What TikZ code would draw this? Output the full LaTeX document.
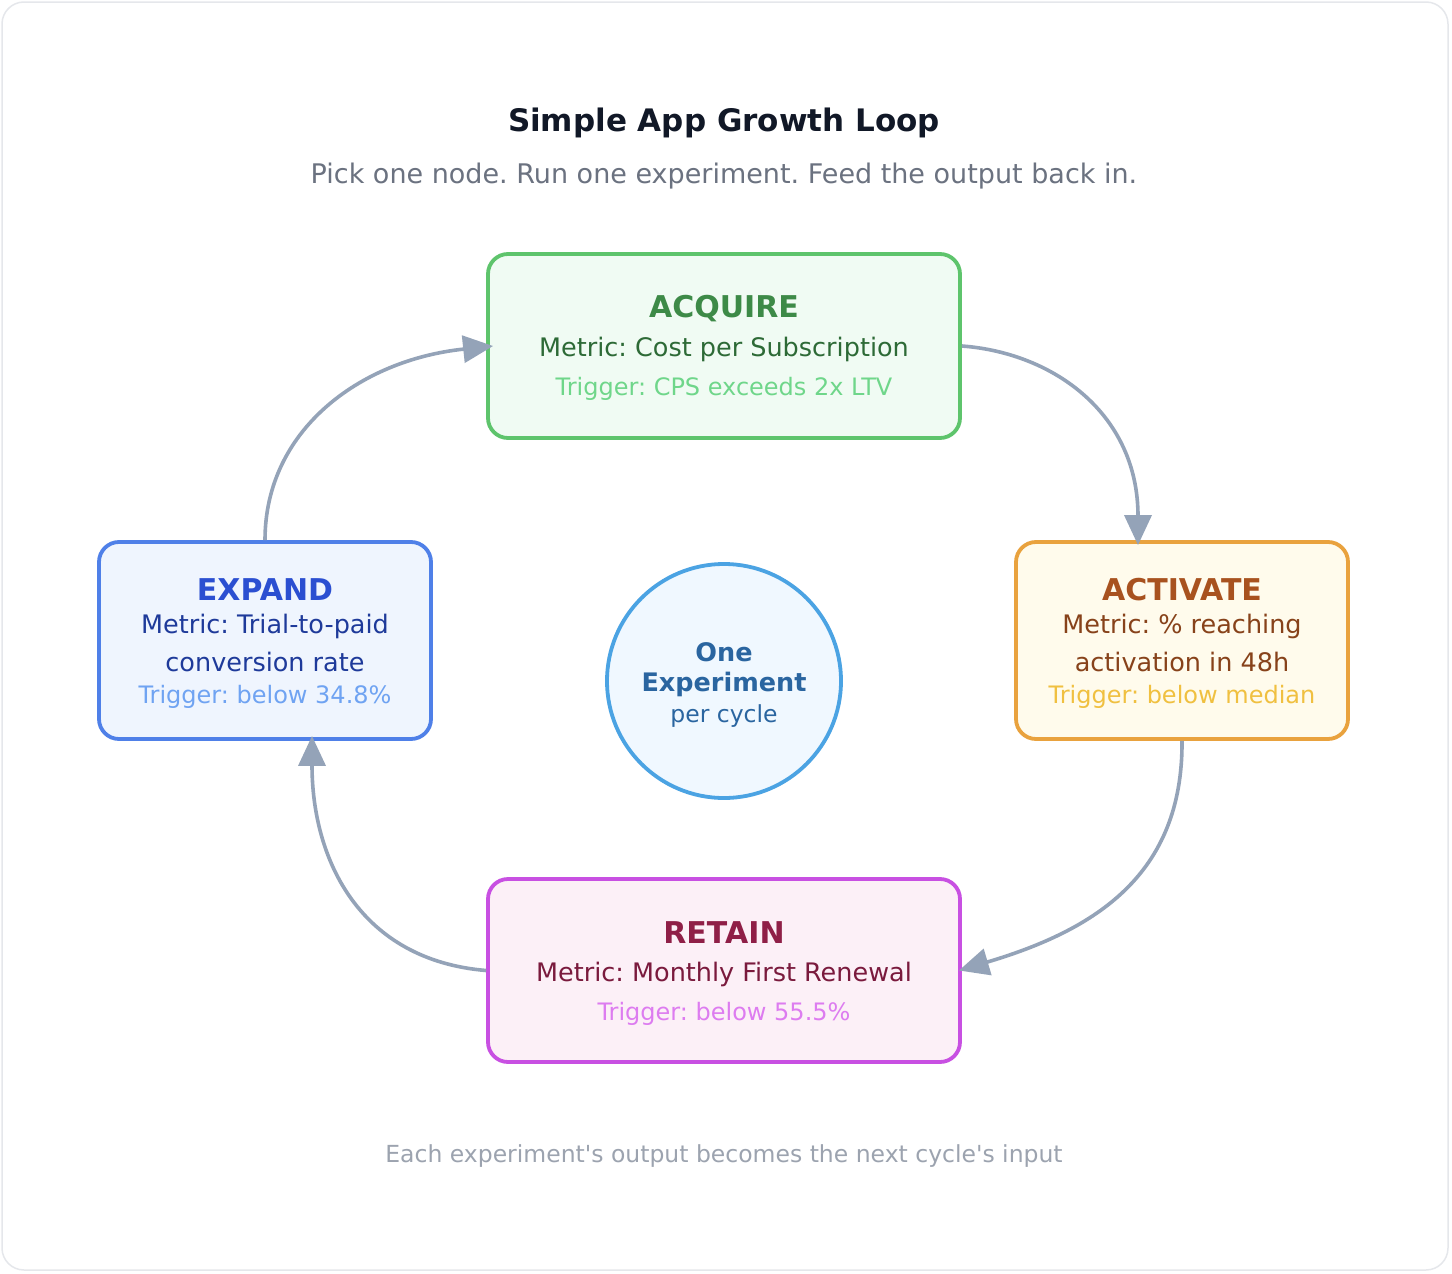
\documentclass[tikz,border=0pt]{standalone}
\usepackage{fontspec}
\setmainfont{DejaVu Sans}[Ligatures=TeXOff]
\usetikzlibrary{arrows.meta, calc, positioning}
\definecolor{cardline}{HTML}{E5E7EB}
\definecolor{titleink}{HTML}{111827}
\definecolor{subink}{HTML}{6B7280}
\definecolor{footink}{HTML}{9CA3AF}
\definecolor{loopgray}{HTML}{94A3B8}
\definecolor{acqline}{HTML}{5EC46C}
\definecolor{acqfill}{HTML}{F0FBF3}
\definecolor{acqhead}{HTML}{3D8A47}
\definecolor{acqtext}{HTML}{2D6A36}
\definecolor{acqtrig}{HTML}{6FD68A}
\definecolor{actline}{HTML}{E9A23E}
\definecolor{actfill}{HTML}{FFFBEC}
\definecolor{acthead}{HTML}{A8521F}
\definecolor{acttext}{HTML}{87421A}
\definecolor{acttrig}{HTML}{F0C040}
\definecolor{expline}{HTML}{4F80E8}
\definecolor{expfill}{HTML}{EFF5FE}
\definecolor{exphead}{HTML}{2B4FD1}
\definecolor{exptext}{HTML}{1E3A9A}
\definecolor{exptrig}{HTML}{6FA3F2}
\definecolor{retline}{HTML}{C850E2}
\definecolor{retfill}{HTML}{FCF0F7}
\definecolor{rethead}{HTML}{8F1F47}
\definecolor{rettext}{HTML}{7A1A3D}
\definecolor{rettrig}{HTML}{DD7CF0}
\definecolor{hubline}{HTML}{4BA3E3}
\definecolor{hubfill}{HTML}{F0F8FF}
\definecolor{hubtext}{HTML}{2A65A0}
\frenchspacing

\tikzset{
  stage/.style={draw, line width=3.8pt, rounded corners=20pt, inner sep=0pt},
  headtxt/.style={font=\fontsize{30}{36}\selectfont\bfseries},
  metrictxt/.style={font=\fontsize{25.5}{31}\selectfont},
  trigtxt/.style={font=\fontsize{24}{29}\selectfont},
  loop/.style={draw=loopgray, line width=3.6pt, -{Triangle[length=30pt, width=27pt]}},
}

\begin{document}
\begin{tikzpicture}[x=1pt, y=-1pt]
            \useasboundingbox (0, 0) rectangle (1452, 1274);
            \draw[cardline, line width=1.5pt, fill=white, rounded corners=22pt] (2, 2) rectangle (1448, 1270);

            \node[font=\fontsize{31}{37}\selectfont\bfseries, text=titleink] (title) at (724, 123) {Simple App Growth Loop};
            \node[font=\fontsize{27}{32}\selectfont, text=subink] (subtitle) at (724, 176) {Pick one node. Run one experiment. Feed the output back in.};

            % stages
            \node[stage, draw=acqline, fill=acqfill, minimum width=472pt, minimum height=184pt] (acquire) at (724, 346) {};
            \node[stage, draw=actline, fill=actfill, minimum width=332pt, minimum height=197pt] (activate) at (1182, 640.5) {};
            \node[stage, draw=retline, fill=retfill, minimum width=472pt, minimum height=183pt] (retain) at (724, 970.5) {};
            \node[stage, draw=expline, fill=expfill, minimum width=332pt, minimum height=197pt] (expand) at (265, 640.5) {};

            \node[headtxt, text=acqhead] (acqname) at (724, 309) {ACQUIRE};
            \node[metrictxt, text=acqtext] (acqmetric) at (724, 349) {Metric: Cost per Subscription};
            \node[trigtxt, text=acqtrig] (acqtrigger) at (724, 389) {Trigger: CPS exceeds 2x LTV};

            \node[headtxt, text=acthead] (actname) at (1182, 590) {ACTIVATE};
            \node[metrictxt, text=acttext] (actmetric) at (1182, 626) {Metric: \% reaching};
            \node[metrictxt, text=acttext] (actmetricb) at (1182, 662) {activation in 48h};
            \node[trigtxt, text=acttrig] (acttrigger) at (1182, 697) {Trigger: below median};

            \node[headtxt, text=rethead] (retname) at (724, 933) {RETAIN};
            \node[metrictxt, text=rettext] (retmetric) at (724, 974) {Metric: Monthly First Renewal};
            \node[trigtxt, text=rettrig] (rettrigger) at (724, 1014) {Trigger: below 55.5\%};

            \node[headtxt, text=exphead] (expname) at (265, 590) {EXPAND};
            \node[metrictxt, text=exptext] (expmetric) at (265, 626) {Metric: Trial-to-paid};
            \node[metrictxt, text=exptext] (expmetricb) at (265, 662) {conversion rate};
            \node[trigtxt, text=exptrig] (exptrigger) at (265, 697) {Trigger: below 34.8\%};

            % centre
            \node[circle, draw=hubline, fill=hubfill, line width=3.8pt, minimum size=234pt] (hub) at (724, 681) {};
            \node[font=\fontsize{25.5}{30}\selectfont\bfseries, text=hubtext] (hubone) at (724, 652) {One};
            \node[font=\fontsize{25.5}{30}\selectfont\bfseries, text=hubtext] (hubexp) at (724, 684) {Experiment};
            \node[font=\fontsize{23.5}{28}\selectfont, text=hubtext] (hubcycle) at (724, 716) {per cycle};

            % loop arrows
            \draw[loop] (acquire.east) .. controls (1055, 353) and (1138, 415) .. ([xshift=-44pt, yshift=-5pt]activate.north);
            \draw[loop] (activate.south) .. controls (1183, 875) and (1095, 930) .. ([xshift=-3pt]retain.east);
            \draw[loop] (retain.west) .. controls (360, 960) and (312, 860) .. ([xshift=47pt, yshift=5pt]expand.south);
            \draw[loop] (expand.north) .. controls (265, 430) and (360, 360) .. ([xshift=7pt]acquire.west);

            \node[font=\fontsize{23.5}{28}\selectfont, text=footink] (footer) at (724, 1156) {Each experiment's output becomes the next cycle's input};
        \end{tikzpicture}
\end{document}
